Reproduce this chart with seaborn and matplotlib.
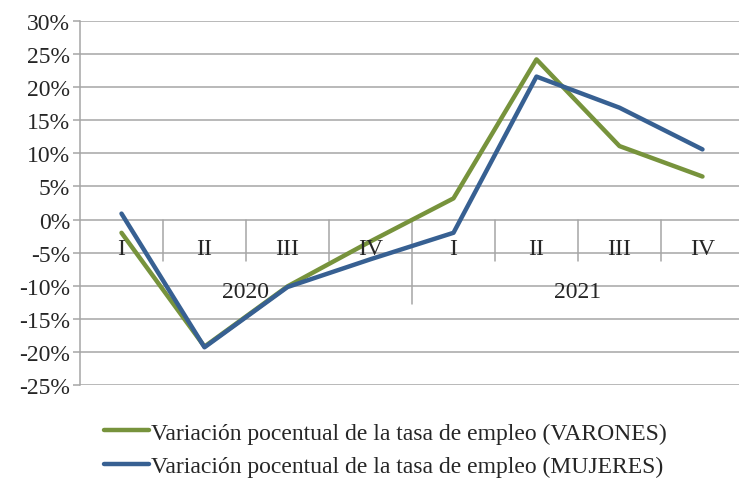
import numpy as np
import pandas as pd
import matplotlib
matplotlib.use("Agg")
import matplotlib.pyplot as plt
import seaborn as sns

# datos (variacion %)
trimestres = ["I", "II", "III", "IV", "I", "II", "III", "IV"]
anios = ["2020", "2021"]
varones = [-2.0, -19.2, -10.1, -3.3, 3.2, 24.2, 11.1, 6.5]
mujeres = [0.9, -19.3, -10.2, -6.0, -2.0, 21.6, 16.9, 10.6]
serie_v = "Variación pocentual de la tasa de empleo (VARONES)"
serie_m = "Variación pocentual de la tasa de empleo (MUJERES)"

df = pd.DataFrame({
    "pos": list(range(len(trimestres))) * 2,
    "valor": varones + mujeres,
    "serie": [serie_v] * len(varones) + [serie_m] * len(mujeres),
})

sns.set_style("white")
plt.rcParams["font.family"] = ["Liberation Serif", "DejaVu Serif"]
fs = 17

fig = plt.figure(figsize=(7.39, 4.81), dpi=100)
ax = fig.add_axes([80 / 739, 1 - 386 / 481, 1 - 80 / 739, (386 - 22) / 481])

grid_c = "#a6a6a6"
sns.lineplot(data=df, x="pos", y="valor", hue="serie",
             palette={serie_v: "#77933C", serie_m: "#376092"},
             linewidth=3.2, ax=ax, zorder=3)

ax.set_ylim(-25, 30)
ax.set_xlim(-0.5, 7.44)
ax.set_yticks(np.arange(-25, 31, 5))
ax.set_yticklabels([f"{v}%" for v in range(-25, 31, 5)], fontsize=fs)
ax.yaxis.grid(True, color=grid_c, linewidth=1.1)
ax.set_axisbelow(True)
ax.tick_params(axis="y", length=5, width=1.1, color=grid_c, pad=2, left=True)
ax.set_xticks([])
ax.set_xlabel("")
ax.set_ylabel("")
for s in ["top", "right", "bottom"]:
    ax.spines[s].set_visible(False)
ax.spines["left"].set_color(grid_c)
ax.spines["left"].set_linewidth(1.1)

# eje de categorias en y=0
for i in range(len(trimestres) - 1):
    bajo = -12.8 if i == 3 else -6.3
    ax.plot([i + 0.5, i + 0.5], [0, bajo], color=grid_c, linewidth=1.1, zorder=1)
for i, t in enumerate(trimestres):
    ax.text(i, -4.4, t, ha="center", va="center", fontsize=fs, zorder=4)
for j, a in enumerate(anios):
    ax.text(j * 4 + 1.5, -10.9, a, ha="center", va="center", fontsize=fs, zorder=4)

ax.legend(handles=ax.get_lines()[:2], labels=[serie_v, serie_m],
          loc="upper left", bbox_to_anchor=(104 / 739, 1 - 423 / 481),
          bbox_transform=fig.transFigure, frameon=False, fontsize=fs,
          handlelength=1.9, handletextpad=0.1, labelspacing=0.5,
          borderaxespad=0, borderpad=0)

fig.savefig("out.png", dpi=100)
